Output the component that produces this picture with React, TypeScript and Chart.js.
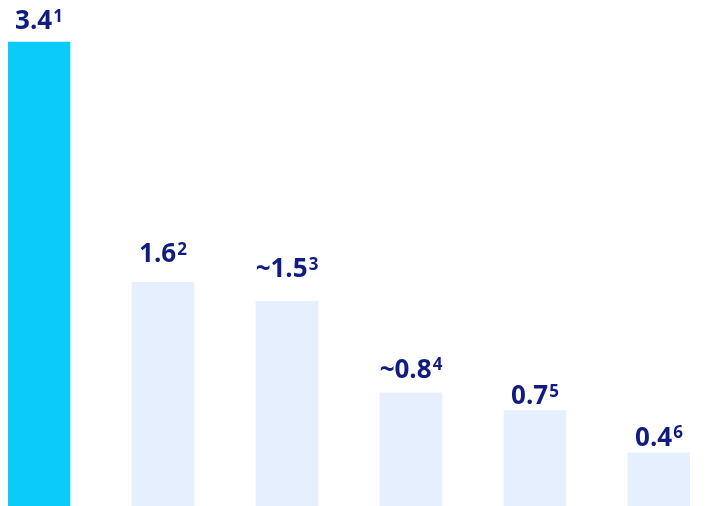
import React, { useEffect, useRef } from "react";
import { Chart, registerables } from "chart.js";

Chart.register(...registerables);

// ---- data ----
const categories = ["1", "2", "3", "4", "5", "6"];
const values = [3.4, 1.64, 1.5, 0.83, 0.7, 0.39];
const labelMain = ["3.4", "1.6", "~1.5", "~0.8", "0.7", "0.4"];
const labelSup = ["1", "2", "3", "4", "5", "6"];

// ---- styles ----
const HIGHLIGHT = "#0BCBFB";
const MUTED = "#E5EFFD";
const TEXT_COLOR = "#111C80";
const FONT_FAMILY = '"Open Sans", "Noto Sans", sans-serif';
const MAIN_SIZE = 26;
const SUP_SIZE = 17;
const SUP_GAP = 1;
const LABEL_GAPS = [13, 20, 24, 15, 6, 7];

const labelPlugin = {
  id: "barLabels",
  afterDatasetsDraw(chart: any) {
    const ctx = chart.ctx as CanvasRenderingContext2D;
    const meta = chart.getDatasetMeta(0);
    ctx.save();
    ctx.fillStyle = TEXT_COLOR;
    ctx.textBaseline = "alphabetic";
    ctx.textAlign = "left";
    const mainFont = `700 ${MAIN_SIZE}px ${FONT_FAMILY}`;
    const supFont = `700 ${SUP_SIZE}px ${FONT_FAMILY}`;
    const raise = (MAIN_SIZE - SUP_SIZE) * 0.714 + 1;
    meta.data.forEach((bar: any, i: number) => {
      const { x, y } = bar.getProps(["x", "y"], true);
      ctx.font = mainFont;
      const mw = ctx.measureText(labelMain[i]).width;
      ctx.font = supFont;
      const sw = ctx.measureText(labelSup[i]).width;
      const total = mw + SUP_GAP + sw;
      const left = x - total / 2;
      const base = y - LABEL_GAPS[i];
      ctx.font = mainFont;
      ctx.fillText(labelMain[i], left, base);
      ctx.font = supFont;
      ctx.fillText(labelSup[i], left + mw + SUP_GAP, base - raise);
    });
    ctx.restore();
  },
};

export default function App() {
  const canvasRef = useRef<HTMLCanvasElement | null>(null);

  useEffect(() => {
    if (!canvasRef.current) return;
    const chart = new Chart(canvasRef.current, {
      type: "bar",
      data: {
        labels: categories,
        datasets: [
          {
            data: values,
            backgroundColor: values.map((_, i) => (i === 0 ? HIGHLIGHT : MUTED)),
            borderWidth: 0,
            barThickness: 62,
            clip: false,
          },
        ],
      },
      options: {
        animation: false,
        responsive: true,
        maintainAspectRatio: false,
        layout: { padding: { left: 31, right: 31, top: 0, bottom: 0 } },
        plugins: {
          legend: { display: false },
          tooltip: { enabled: false },
        },
        scales: {
          x: {
            display: false,
            offset: false,
            grid: { display: false },
          },
          y: {
            display: false,
            min: 0,
            max: 3.65,
            grid: { display: false },
          },
        },
      },
      plugins: [labelPlugin],
    });
    return () => chart.destroy();
  }, []);

  return (
    <div
      style={{
        position: "absolute",
        left: 8,
        top: 8,
        width: 682,
        height: 498,
      }}
    >
      <canvas ref={canvasRef} />
    </div>
  );
}
